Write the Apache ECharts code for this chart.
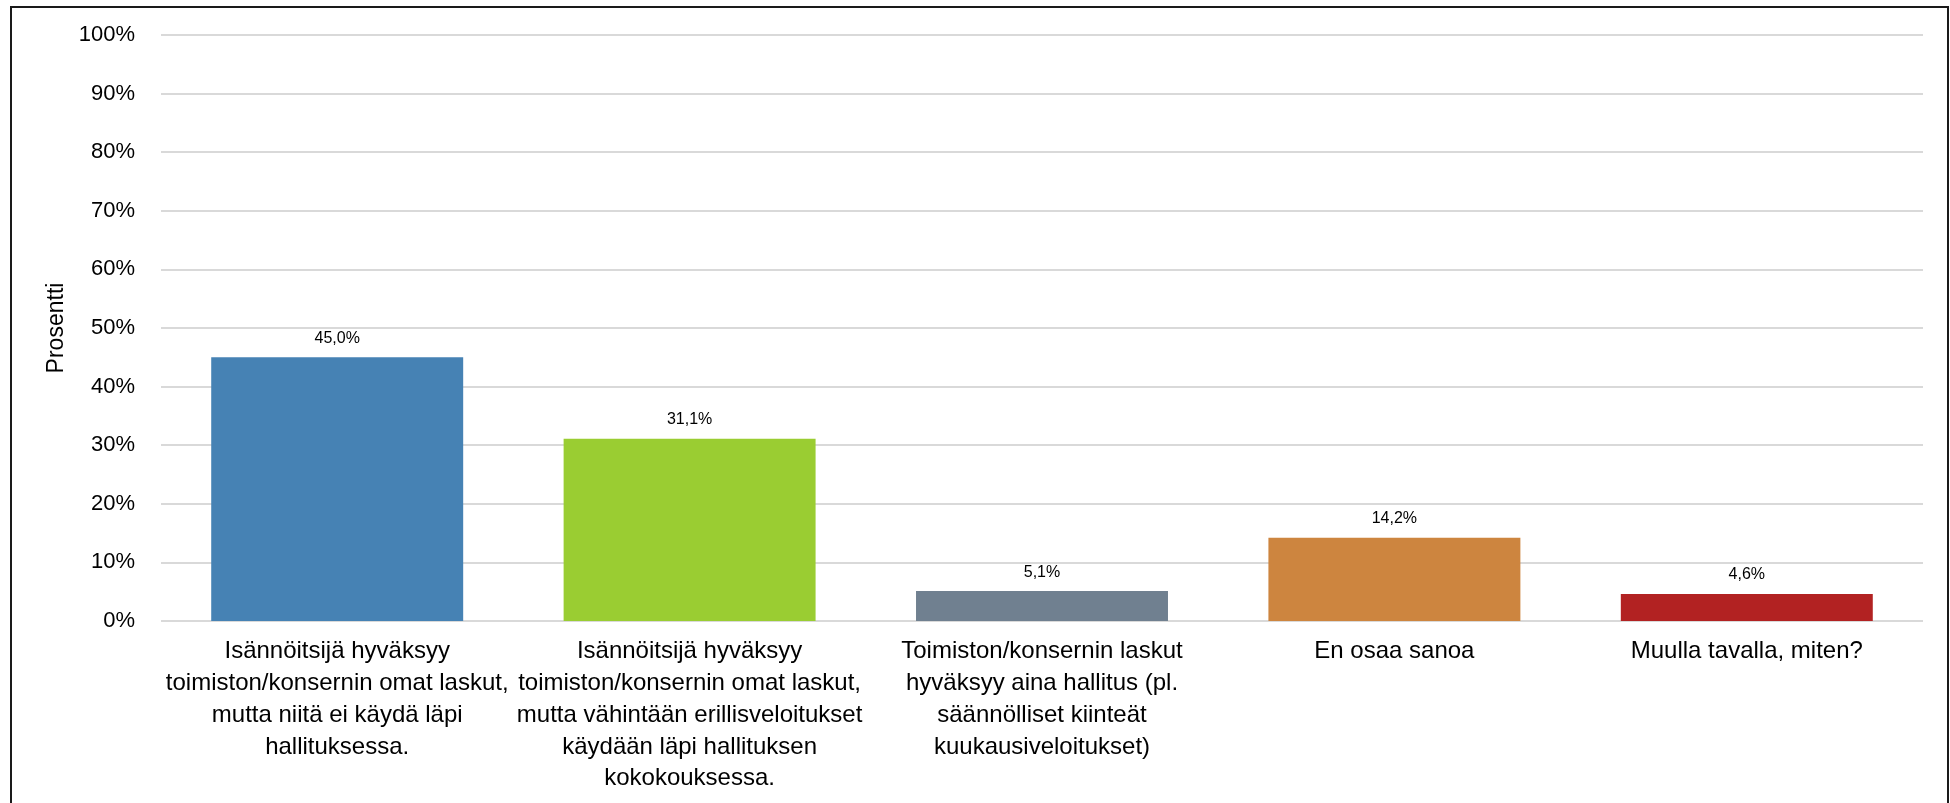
<!DOCTYPE html>
<html>
<head>
<meta charset="utf-8">
<script src="https://cdn.jsdelivr.net/npm/echarts@6/dist/echarts.min.js"></script>
<style>
  html, body { margin: 0; padding: 0; background: #fff; }
  #main { width: 1950px; height: 803px; }
</style>
</head>
<body>
<div id="main"></div>
<script>
  // categories (line breaks as in the original chart)
  var categories = [
    'Isännöitsijä hyväksyy\ntoimiston/konsernin omat laskut,\nmutta niitä ei käydä läpi\nhallituksessa.',
    'Isännöitsijä hyväksyy\ntoimiston/konsernin omat laskut,\nmutta vähintään erillisveloitukset\nkäydään läpi hallituksen\nkokokouksessa.',
    'Toimiston/konsernin laskut\nhyväksyy aina hallitus (pl.\nsäännölliset kiinteät\nkuukausiveloitukset)',
    'En osaa sanoa',
    'Muulla tavalla, miten?'
  ];
  var values = [45.0, 31.1, 5.1, 14.2, 4.6];
  var barColors = ['#4682B4', '#9ACD32', '#708090', '#CD853F', '#B22222'];
  var yTicks = [0, 10, 20, 30, 40, 50, 60, 70, 80, 90, 100];

  var font = '"Liberation Sans", Arial, sans-serif';
  var chart = echarts.init(document.getElementById('main'));

  chart.setOption({
    animation: false,
    textStyle: { fontFamily: font },
    graphic: [{
      type: 'rect',
      shape: { x: 11, y: 7, width: 1937, height: 830 },
      style: { fill: 'none', stroke: '#1a1a1a', lineWidth: 2 },
      silent: true
    }],
    grid: { left: 161, right: 27, top: 35, bottom: 182 },
    xAxis: {
      type: 'category',
      data: categories,
      axisLine: { show: false },
      axisTick: { show: false },
      axisLabel: {
        interval: 0,
        margin: 15,
        fontSize: 24,
        lineHeight: 31.7,
        color: '#000',
        align: 'center',
        verticalAlign: 'top'
      }
    },
    yAxis: {
      type: 'value',
      min: yTicks[0],
      max: yTicks[yTicks.length - 1],
      interval: 10,
      name: 'Prosentti',
      nameLocation: 'middle',
      nameGap: 87,
      nameTextStyle: { fontSize: 23, color: '#000' },
      axisLine: { show: false },
      axisTick: { show: false },
      axisLabel: {
        formatter: '{value}%',
        fontSize: 22,
        margin: 26,
        color: '#000'
      },
      splitLine: { lineStyle: { color: '#d9d9d9', width: 2 } }
    },
    series: [{
      type: 'bar',
      barCategoryGap: '28.5%',
      data: values.map(function (v, i) {
        return { value: v, itemStyle: { color: barColors[i] } };
      }),
      label: {
        show: true,
        position: 'top',
        distance: 11,
        fontSize: 16,
        color: '#000',
        formatter: function (p) {
          return p.value.toFixed(1).replace('.', ',') + '%';
        }
      }
    }]
  });
</script>
</body>
</html>
